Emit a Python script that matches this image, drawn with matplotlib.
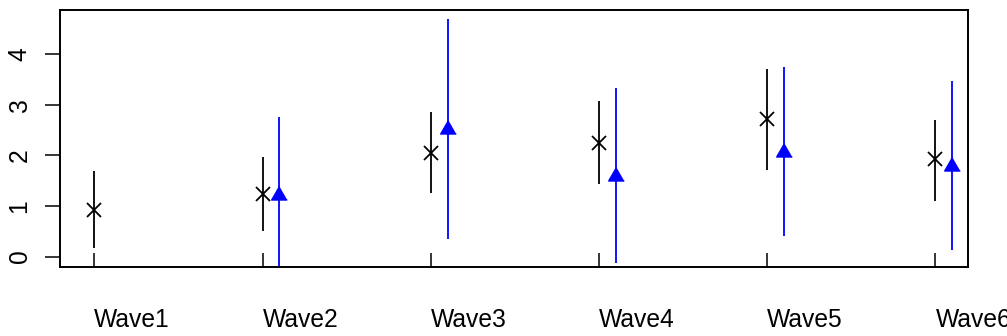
import numpy as np
import matplotlib
matplotlib.use("Agg")
import matplotlib.pyplot as plt
import matplotlib.transforms as mtransforms

plt.rcParams['font.family'] = ['Liberation Sans', 'DejaVu Sans']

waves = ["Wave1", "Wave2", "Wave3", "Wave4", "Wave5", "Wave6"]

# black series (all waves)
black_mean = [0.92, 1.23, 2.05, 2.24, 2.71, 1.92]
black_low = [0.16, 0.51, 1.26, 1.43, 1.70, 1.10]
black_high = [1.68, 1.97, 2.85, 3.08, 3.70, 2.69]

# blue series (from Wave2 on)
blue_waves = ["Wave2", "Wave3", "Wave4", "Wave5", "Wave6"]
blue_mean = [1.22, 2.52, 1.60, 2.07, 1.79]
blue_low = [-0.32, 0.34, -0.13, 0.41, 0.12]
blue_high = [2.76, 4.69, 3.32, 3.74, 3.46]

yticks = [0, 1, 2, 3, 4]

x = np.arange(1, len(waves) + 1)
xb = np.array([waves.index(w) + 1 for w in blue_waves]) + 0.1

fig = plt.figure(figsize=(10.07, 3.36), dpi=100)
ax = fig.add_axes([0.0596, 0.2068, 0.9017, 0.7649])

ax.vlines(x, black_low, black_high, color="black", lw=1.3)
ax.plot(x, black_mean, ls="none", marker="x", ms=10, mew=1.3, color="black")

tri = [(0, 1), (-0.866, -0.5), (0.866, -0.5)]
ax.vlines(xb, blue_low, blue_high, color="blue", lw=1.3)
ax.plot(xb, blue_mean, ls="none", marker=tri, ms=13, color="blue", mec="blue")

ax.set_xlim(0.796, 6.194)
ax.set_ylim(-0.197, 4.878)

ax.set_xticks(x)
ax.set_xticklabels([])
ax.tick_params(axis="x", direction="in", length=10, width=1.1)
ax.set_yticks(yticks)
ax.set_yticklabels([str(v) for v in yticks], rotation=90, va="center", fontsize=17.7)
ax.tick_params(axis="y", length=10.5, width=1.1, pad=10)

for s in ax.spines.values():
    s.set_linewidth(1.4)

# wave names under the axis, left aligned on the ticks
trans = mtransforms.blended_transform_factory(ax.transData, ax.transAxes)
for xi, name in zip(x, waves):
    ax.text(xi, -0.2366, name, transform=trans, ha="left", va="baseline",
            fontsize=17.7, clip_on=False)

fig.savefig("out.png", dpi=100)
